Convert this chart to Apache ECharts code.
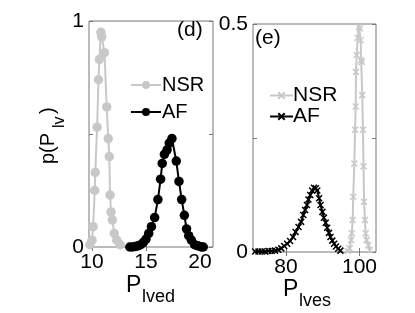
<!DOCTYPE html>
<html>
<head>
<meta charset="utf-8">
<script src="https://cdn.jsdelivr.net/npm/echarts@6/dist/echarts.min.js"></script>
<style>
html,body{margin:0;padding:0;background:#fff;}
#c{width:415px;height:313px;}
</style>
</head>
<body>
<div id="c"></div>
<script>
// ---- data: panel (d), P_lved ----
const lvedNsrX = [9.8, 10.0, 10.1, 10.25, 10.3, 10.47, 10.6, 10.68, 10.82, 10.9, 11.15, 11.36, 11.5, 11.6, 11.67, 11.76, 11.88, 12.06, 12.29, 12.6];
const lvedNsrP = [0.01, 0.03, 0.09, 0.25, 0.33, 0.53, 0.74, 0.83, 0.95, 0.93, 0.86, 0.62, 0.48, 0.40, 0.23, 0.155, 0.12, 0.06, 0.03, 0.01];
const lvedAfX = [13.5, 13.75, 14.0, 14.25, 14.5, 14.75, 15.0, 15.25, 15.5, 15.8, 16.1, 16.35, 16.5, 16.7, 16.95, 17.15, 17.4, 17.8, 18.05, 18.3, 18.55, 18.75, 18.95, 19.2, 19.5, 19.8, 20.1, 20.3];
const lvedAfP = [0.0, 0.0, 0.002, 0.005, 0.01, 0.02, 0.035, 0.06, 0.09, 0.13, 0.21, 0.30, 0.37, 0.41, 0.43, 0.46, 0.48, 0.38, 0.29, 0.21, 0.14, 0.08, 0.05, 0.03, 0.01, 0.005, 0.0, 0.0];
// ---- data: panel (e), P_lves ----
const lvesNsrX = [96.8, 97.3, 97.7, 97.9, 98.15, 98.3, 98.6, 98.8, 98.97, 99.05, 99.25, 99.5, 99.86, 100.1, 100.33, 100.45, 100.6, 100.76, 100.95, 101.1, 101.25, 101.5, 101.7, 101.96, 102.4, 102.8];
const lvesNsrP = [0.002, 0.008, 0.026, 0.041, 0.07, 0.121, 0.194, 0.268, 0.319, 0.395, 0.432, 0.47, 0.494, 0.49, 0.465, 0.421, 0.417, 0.344, 0.268, 0.188, 0.11, 0.07, 0.041, 0.026, 0.015, 0.004];
const lvesAfX = [71.6, 72.5, 73.4, 74.3, 75.2, 76.1, 77.0, 77.9, 78.7, 79.5, 80.3, 81.1, 81.9, 82.6, 83.4, 84.1, 84.7, 85.2, 85.7, 86.1, 86.6, 87.1, 87.6, 88.1, 88.5, 89.0, 89.4, 89.9, 90.3, 90.8, 91.2, 91.7, 92.1, 92.6, 93.1, 93.6, 94.2, 94.8];
const lvesAfP = [0.001, 0.001, 0.001, 0.001, 0.002, 0.002, 0.003, 0.005, 0.008, 0.013, 0.018, 0.024, 0.033, 0.044, 0.055, 0.066, 0.081, 0.092, 0.103, 0.115, 0.125, 0.135, 0.141, 0.14, 0.135, 0.118, 0.103, 0.088, 0.075, 0.064, 0.053, 0.042, 0.033, 0.025, 0.018, 0.012, 0.007, 0.003];
// ---- tick labels ----
const lvedTicks = [10, 15, 20];
const lvesTicks = [80, 100];
const pLvedTickLabels = [0, 1];
const pLvedTicks = [0, 0.5, 1];
const pLvesTickLabels = [0, 0.5];
const pLvesTicks = [0, 0.25, 0.5];

const FONT = '"Liberation Sans", Arial, Helvetica, sans-serif';
const GRAY = '#c8c8c8';
const BOX = '#777';
const zip = (a, b) => a.map((v, i) => [v, b[i]]);
const crossPath = 'path://M0,0L10,10M10,0L0,10';

function xAx(gi, min, max, ticks, pos, labels) {
  return {
    type: 'value', gridIndex: gi, min: min, max: max, position: pos,
    splitLine: {show: false}, axisLine: {show: false},
    axisTick: {show: true, inside: true, length: 4, customValues: ticks, lineStyle: {color: BOX}},
    axisLabel: {show: labels, customValues: ticks, margin: 5, color: '#000', fontSize: 21, fontFamily: FONT}
  };
}
function yAx(gi, min, max, ticks, labelVals, pos, labels) {
  return {
    type: 'value', gridIndex: gi, min: min, max: max, position: pos,
    splitLine: {show: false}, axisLine: {show: false},
    axisTick: {show: true, inside: true, length: 4, customValues: ticks, lineStyle: {color: BOX}},
    axisLabel: {show: labels, customValues: labelVals, margin: 5, color: '#000', fontSize: 21, fontFamily: FONT}
  };
}

const chart = echarts.init(document.getElementById('c'), null, {renderer: 'canvas'});
chart.setOption({
  animation: false,
  backgroundColor: '#fff',
  grid: [
    {left: 89, top: 21, width: 124, height: 226, show: true, borderColor: BOX, borderWidth: 1, backgroundColor: 'transparent'},
    {left: 253, top: 24, width: 123, height: 228, show: true, borderColor: BOX, borderWidth: 1, backgroundColor: 'transparent'}
  ],
  xAxis: [
    xAx(0, 9.72, 21.2, lvedTicks, 'bottom', true),
    xAx(0, 9.72, 21.2, lvedTicks, 'top', false),
    xAx(1, 71, 104.5, lvesTicks, 'bottom', true),
    xAx(1, 71, 104.5, lvesTicks, 'top', false)
  ],
  yAxis: [
    yAx(0, 0, 1, pLvedTicks, pLvedTickLabels, 'left', true),
    yAx(0, 0, 1, pLvedTicks, pLvedTickLabels, 'right', false),
    yAx(1, 0, 0.5, pLvesTicks, pLvesTickLabels, 'left', true),
    yAx(1, 0, 0.5, pLvesTicks, pLvesTickLabels, 'right', false)
  ],
  legend: [
    {
      orient: 'vertical', left: 125, top: 70, itemWidth: 30, itemHeight: 10, itemGap: 7,
      data: ['NSR_d', 'AF_d'], formatter: n => n.split('_')[0],
      textStyle: {fontSize: 20, lineHeight: 20, color: '#000', fontFamily: FONT, padding: [0, 0, 0, -4]},
      selectedMode: false
    },
    {
      orient: 'vertical', left: 264, top: 80, itemWidth: 23, itemHeight: 8, itemGap: 0,
      data: ['NSR_e', 'AF_e'], formatter: n => n.split('_')[0],
      textStyle: {fontSize: 21, lineHeight: 18, color: '#000', fontFamily: FONT, padding: [0, 0, 0, -5]},
      selectedMode: false
    }
  ],
  series: [
    {name: 'NSR_d', type: 'line', xAxisIndex: 0, yAxisIndex: 0, data: zip(lvedNsrX, lvedNsrP),
      symbol: 'circle', symbolSize: 9.5, lineStyle: {color: GRAY, width: 2}, itemStyle: {color: GRAY}},
    {name: 'AF_d', type: 'line', xAxisIndex: 0, yAxisIndex: 0, data: zip(lvedAfX, lvedAfP),
      symbol: 'circle', symbolSize: 9.5, lineStyle: {color: '#000', width: 2}, itemStyle: {color: '#000'}},
    {name: 'NSR_e', type: 'line', xAxisIndex: 2, yAxisIndex: 2, data: zip(lvesNsrX, lvesNsrP),
      symbol: crossPath, symbolSize: 6, lineStyle: {color: GRAY, width: 2},
      itemStyle: {color: GRAY, borderColor: GRAY, borderWidth: 1.5}},
    {name: 'AF_e', type: 'line', xAxisIndex: 2, yAxisIndex: 2, data: zip(lvesAfX, lvesAfP),
      symbol: crossPath, symbolSize: 6, lineStyle: {color: '#000', width: 2},
      itemStyle: {color: '#000', borderColor: '#000', borderWidth: 1.5}}
  ],
  graphic: [
    {type: 'text', left: 177, top: 20, style: {text: '(d)', fontSize: 21, fontFamily: FONT, fill: '#000'}},
    {type: 'text', left: 255, top: 28, style: {text: '(e)', fontSize: 21, fontFamily: FONT, fill: '#000'}},
    {type: 'text', left: 126, top: 274, style: {text: 'P', fontSize: 23, fontFamily: FONT, fill: '#000'}},
    {type: 'text', left: 142, top: 288, style: {text: 'lved', fontSize: 18, fontFamily: FONT, fill: '#000'}},
    {type: 'text', left: 283, top: 278, style: {text: 'P', fontSize: 23, fontFamily: FONT, fill: '#000'}},
    {type: 'text', left: 299, top: 292, style: {text: 'lves', fontSize: 18, fontFamily: FONT, fill: '#000'}},
    {type: 'text', x: 38, y: 164, rotation: Math.PI / 2, style: {text: 'p(P', fontSize: 20, fontFamily: FONT, fill: '#000'}},
    {type: 'text', x: 52, y: 128, rotation: Math.PI / 2, style: {text: 'lv', fontSize: 16, fontFamily: FONT, fill: '#000'}},
    {type: 'text', x: 38, y: 114, rotation: Math.PI / 2, style: {text: ')', fontSize: 20, fontFamily: FONT, fill: '#000'}}
  ]
});
</script>
</body>
</html>
